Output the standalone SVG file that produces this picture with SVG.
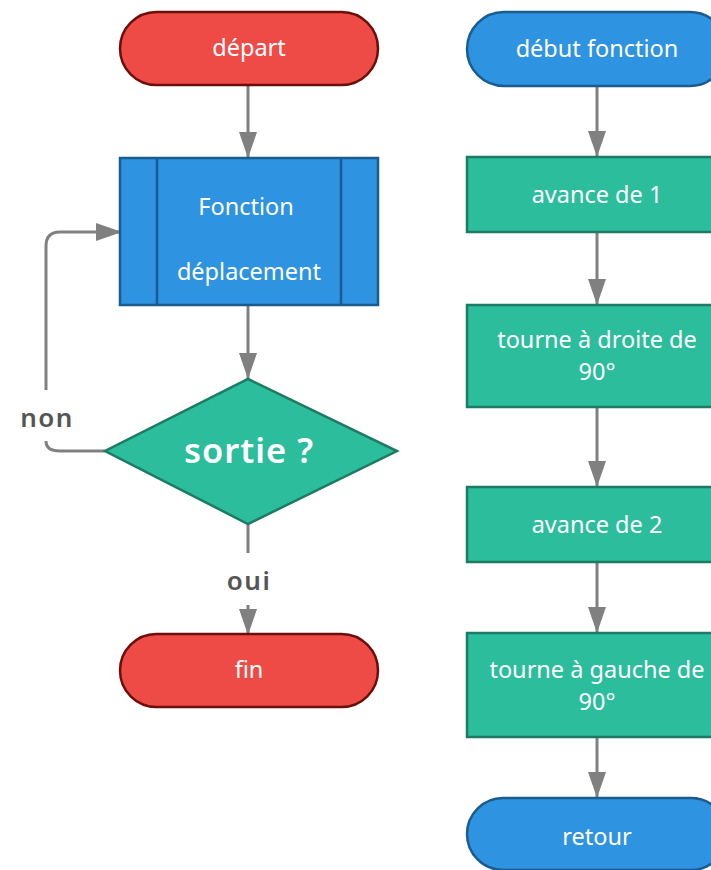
<svg xmlns="http://www.w3.org/2000/svg" width="711" height="870" viewBox="0 0 711 870">
<defs>
<marker id="arr" viewBox="0 0 26 18" refX="26" refY="9" markerWidth="26" markerHeight="18" markerUnits="userSpaceOnUse" orient="auto">
<path d="M0,0 L26,9 L0,18 Z" fill="#808080"/>
</marker>
</defs>
<style>
.red{fill:#ef4b46;stroke:#6e0e0a;stroke-width:2.5}
.blue{fill:#2e93e1;stroke:#1b5b8f;stroke-width:2.5}
.green{fill:#2bbd9c;stroke:#1d7a63;stroke-width:2.5}
.t{font-family:"Noto Sans","Open Sans",sans-serif;font-size:23.5px;fill:#ffffff;text-anchor:middle}
.lbl{font-family:"Noto Sans","Open Sans",sans-serif;font-size:26px;font-weight:600;fill:#555555;text-anchor:middle;letter-spacing:1.5px}
.c{fill:none;stroke:#808080;stroke-width:3}
</style>
<g id="connectors">
<path class="c" d="M248,85 V158" marker-end="url(#arr)"/>
<path class="c" d="M248,305 V379" marker-end="url(#arr)"/>
<path class="c" d="M105,451 H60 Q46,451 46,441"/>
<path class="c" d="M46,390 V246 Q46,232 60,232 H122" marker-end="url(#arr)"/>
<path class="c" d="M248,524 V553"/>
<path class="c" d="M248,605 V635" marker-end="url(#arr)"/>
<path class="c" d="M597,86 V157" marker-end="url(#arr)"/>
<path class="c" d="M597,232 V305" marker-end="url(#arr)"/>
<path class="c" d="M597,407 V487" marker-end="url(#arr)"/>
<path class="c" d="M597,562 V633" marker-end="url(#arr)"/>
<path class="c" d="M597,737 V798" marker-end="url(#arr)"/>
<text class="lbl" x="47" y="427">non</text>
<text class="lbl" x="249" y="590">oui</text>
</g>
<g id="depart">
<rect class="red" x="120" y="12" width="258" height="73" rx="36.5"/>
<text class="t" x="249" y="56">départ</text>
</g>
<g id="fonction">
<rect class="blue" x="120" y="158" width="258" height="147"/>
<line x1="157" y1="158" x2="157" y2="305" stroke="#1b5b8f" stroke-width="2.5"/>
<line x1="341" y1="158" x2="341" y2="305" stroke="#1b5b8f" stroke-width="2.5"/>
<text class="t" x="246" y="215">Fonction</text>
<text class="t" x="249" y="280">déplacement</text>
</g>
<g id="sortie">
<polygon class="green" points="248,379 397,451 248,524 105,451"/>
<text class="t" x="249" y="463" style="font-size:34.5px;font-weight:600;letter-spacing:1px">sortie ?</text>
</g>
<g id="fin">
<rect class="red" x="120" y="634" width="258" height="73" rx="36.5"/>
<text class="t" x="249" y="678">fin</text>
</g>
<g id="debut">
<rect class="blue" x="467" y="12" width="260" height="74" rx="37"/>
<text class="t" x="597" y="57">début fonction</text>
</g>
<g id="avance1">
<rect class="green" x="467" y="157" width="260" height="75"/>
<text class="t" x="597" y="203">avance de 1</text>
</g>
<g id="droite">
<rect class="green" x="467" y="305" width="260" height="102"/>
<text class="t" x="597" y="348">tourne à droite de</text>
<text class="t" x="597" y="380">90°</text>
</g>
<g id="avance2">
<rect class="green" x="467" y="487" width="260" height="75"/>
<text class="t" x="597" y="533">avance de 2</text>
</g>
<g id="gauche">
<rect class="green" x="467" y="633" width="260" height="104"/>
<text class="t" x="597" y="678">tourne à gauche de</text>
<text class="t" x="597" y="710">90°</text>
</g>
<g id="retour">
<rect class="blue" x="467" y="798" width="260" height="72" rx="36"/>
<text class="t" x="597" y="845">retour</text>
</g>
</svg>
